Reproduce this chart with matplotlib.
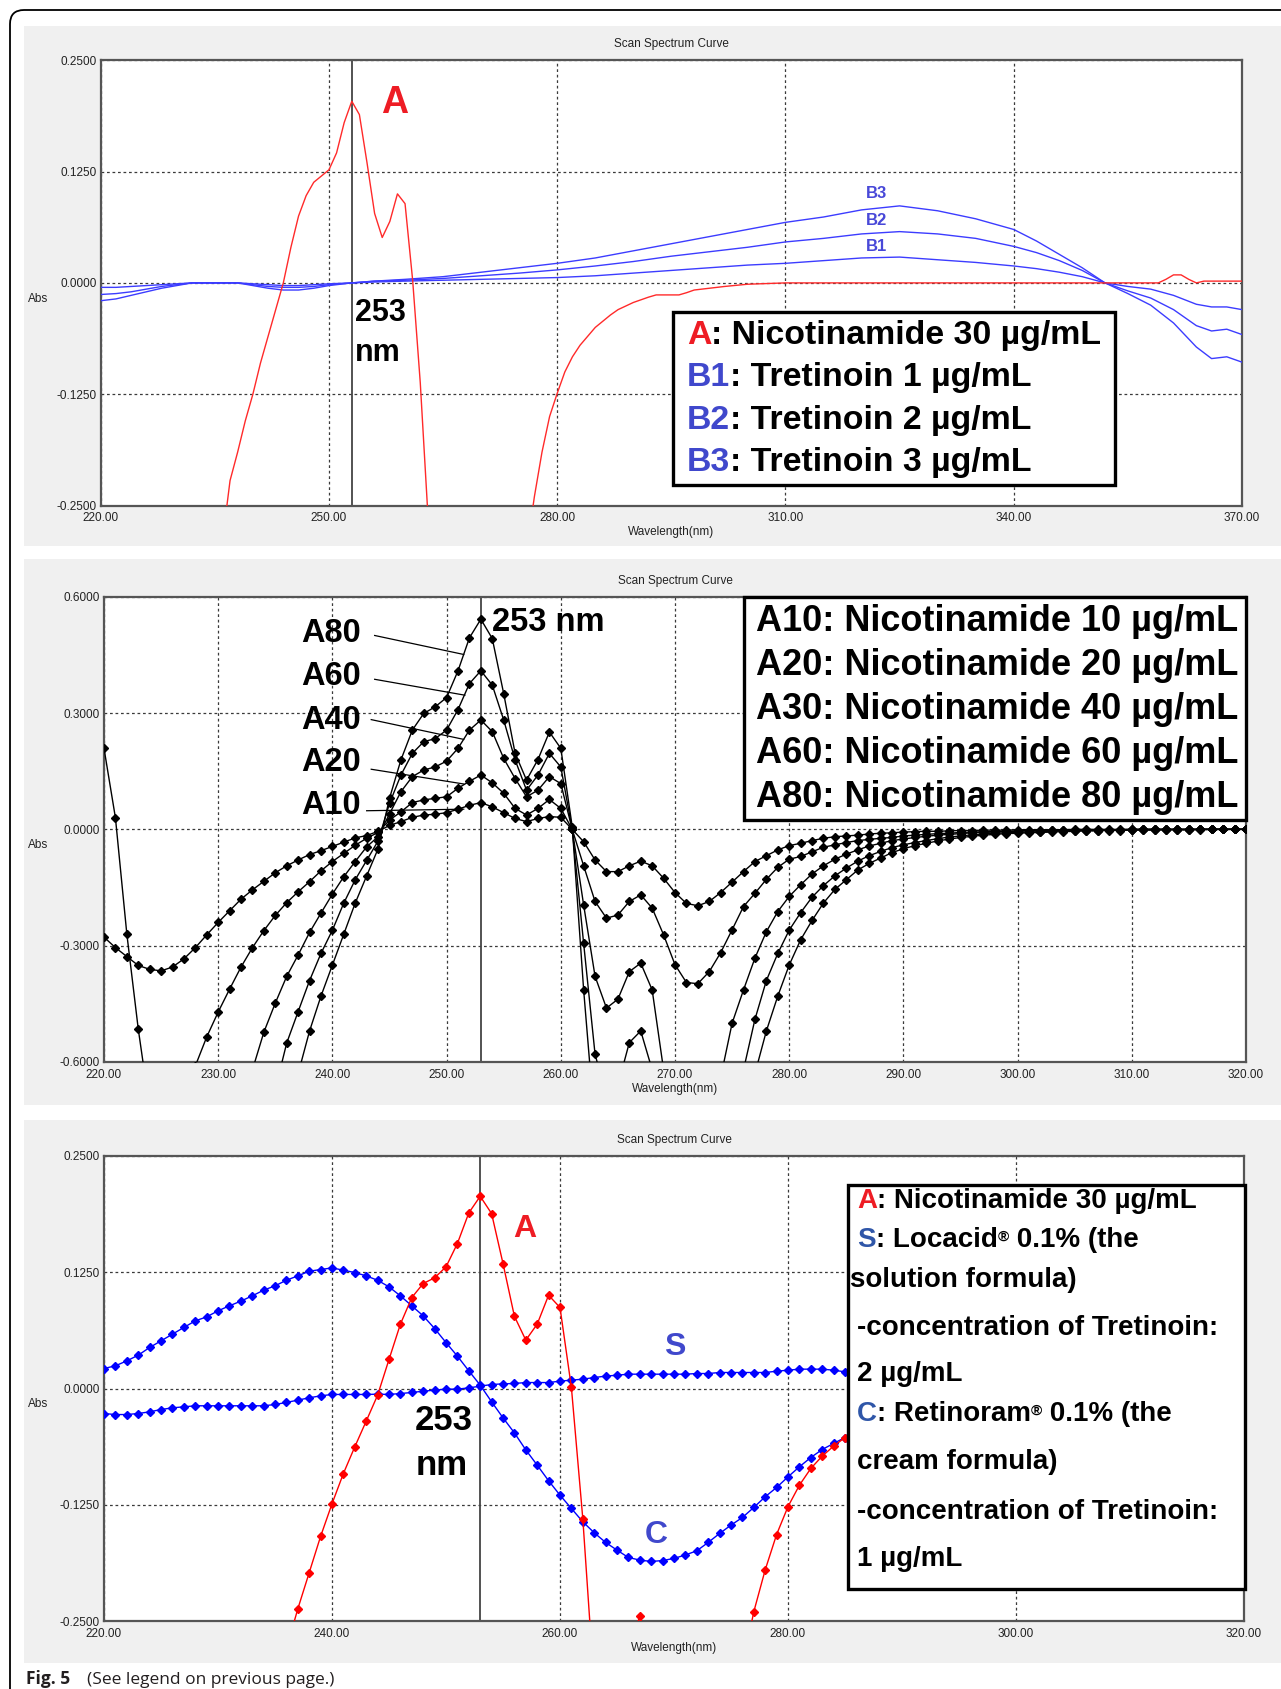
import numpy as np
import matplotlib
matplotlib.use("Agg")
import matplotlib.pyplot as plt
from matplotlib.patches import Rectangle, FancyBboxPatch
from matplotlib.ticker import FormatStrFormatter

plt.rcParams["font.family"] = ["Liberation Sans", "DejaVu Sans"]

# ---------------- data ----------------
# panel 1: Nicotinamide 30 ug/mL (A) and Tretinoin 1/2/3 ug/mL (B1-B3)
a1_wl = [236, 237, 238, 239, 240, 241, 242, 243, 244, 245, 246, 247, 248, 249,
         250, 251, 252, 253, 254, 255, 256, 257, 258, 259, 260, 261, 262, 263,
         264, 266, 268, 270, 272, 274, 276, 277, 278, 279, 280, 281, 282, 283,
         284, 285, 286, 287, 288, 289, 290, 291, 292, 293, 294, 295, 296, 297,
         298, 299, 300, 302, 305, 310, 320, 330, 340, 350, 359, 360, 361, 362,
         363, 364, 365, 367, 370]
a1_abs = [-0.29, -0.222, -0.19, -0.155, -0.125, -0.09, -0.06, -0.03, 0.0, 0.04,
          0.075, 0.098, 0.113, 0.12, 0.127, 0.146, 0.18, 0.204, 0.189, 0.135,
          0.078, 0.051, 0.069, 0.100, 0.089, 0.003, -0.112, -0.26, -0.40,
          -0.35, -0.32, -0.48, -0.52, -0.42, -0.30, -0.24, -0.19, -0.15,
          -0.124, -0.100, -0.083, -0.070, -0.060, -0.050, -0.043, -0.036,
          -0.030, -0.026, -0.022, -0.019, -0.016, -0.0135, -0.0135, -0.0135,
          -0.0135, -0.011, -0.008, -0.007, -0.006, -0.004, -0.0015, 0.0, 0.0,
          0.0, 0.0, 0.0, 0.0, 0.004, 0.009, 0.009, 0.004, 0.0, 0.002, 0.002,
          0.002]

b_wl = [220, 222, 224, 226, 228, 230, 232, 235, 238, 240, 242, 244, 246, 248,
        250, 253, 256, 260, 265, 270, 275, 280, 285, 290, 295, 300, 305, 310,
        315, 320, 325, 330, 335, 340, 343, 346, 349, 352, 355, 358, 361, 364,
        366, 368, 370]
b1_abs = [-0.005, -0.005, -0.004, -0.003, -0.002, -0.001, 0.0, 0.0, 0.0,
          -0.001, -0.002, -0.003, -0.003, -0.002, -0.001, 0.0, 0.001, 0.002,
          0.003, 0.004, 0.005, 0.006, 0.008, 0.011, 0.014, 0.017, 0.020,
          0.022, 0.025, 0.028, 0.029, 0.026, 0.023, 0.019, 0.016, 0.012,
          0.007, 0.0, -0.004, -0.007, -0.014, -0.024, -0.027, -0.027, -0.030]
b2_abs = [-0.013, -0.012, -0.010, -0.007, -0.004, -0.002, 0.0, 0.0, 0.0,
          -0.002, -0.004, -0.005, -0.005, -0.004, -0.002, 0.0, 0.002, 0.003,
          0.005, 0.008, 0.011, 0.0146, 0.019, 0.024, 0.030, 0.035, 0.040,
          0.046, 0.050, 0.055, 0.0576, 0.055, 0.050, 0.041, 0.034, 0.025,
          0.014, 0.0, -0.009, -0.017, -0.030, -0.048, -0.054, -0.052, -0.058]
b3_abs = [-0.020, -0.018, -0.014, -0.010, -0.006, -0.003, 0.0, 0.0, 0.0,
          -0.003, -0.006, -0.008, -0.008, -0.006, -0.003, 0.0, 0.002, 0.004,
          0.007, 0.012, 0.017, 0.022, 0.028, 0.036, 0.044, 0.052, 0.060,
          0.068, 0.074, 0.082, 0.0865, 0.081, 0.072, 0.060, 0.047, 0.032,
          0.017, 0.0, -0.012, -0.025, -0.045, -0.072, -0.085, -0.083, -0.089]

# panel 2: Nicotinamide series, sampled every 1 nm from 220 to 320
wl2 = np.arange(220, 321)
a10 = [-0.278, -0.305, -0.328, -0.351, -0.361, -0.365, -0.355, -0.334, -0.305, -0.272,
       -0.240, -0.210, -0.180, -0.156, -0.134, -0.112, -0.094, -0.079, -0.065, -0.055,
       -0.044, -0.033, -0.022, -0.016, -0.005, 0.010, 0.020, 0.031, 0.037, 0.039,
       0.043, 0.052, 0.062, 0.069, 0.058, 0.043, 0.028, 0.020, 0.028, 0.033,
       0.031, 0.000, -0.032, -0.079, -0.109, -0.109, -0.094, -0.082, -0.094, -0.126,
       -0.163, -0.191, -0.197, -0.186, -0.163, -0.136, -0.109, -0.083, -0.068, -0.053,
       -0.042, -0.036, -0.029, -0.023, -0.019, -0.017, -0.015, -0.012, -0.010, -0.009,
       -0.007, -0.006, -0.005, -0.005, -0.004, -0.003, -0.003, -0.002, -0.002, -0.002,
       -0.001, -0.001, -0.001, -0.001, -0.001, 0.0, 0.0, 0.0, 0.0, 0.0,
       0.0, 0.0, 0.0, 0.0, 0.0, 0.0, 0.0, 0.0, 0.0, 0.0, 0.0]
a20 = [0.209, 0.030, -0.270, -0.515, -0.720, -0.730, -0.710, -0.670, -0.610, -0.535,
       -0.471, -0.412, -0.355, -0.305, -0.261, -0.222, -0.189, -0.161, -0.135, -0.107,
       -0.083, -0.062, -0.041, -0.023, -0.008, 0.024, 0.045, 0.069, 0.076, 0.080,
       0.084, 0.106, 0.124, 0.140, 0.120, 0.093, 0.054, 0.037, 0.054, 0.077,
       0.054, 0.000, -0.094, -0.186, -0.229, -0.221, -0.186, -0.169, -0.203, -0.272,
       -0.349, -0.395, -0.398, -0.367, -0.318, -0.259, -0.199, -0.165, -0.129, -0.098,
       -0.077, -0.070, -0.058, -0.046, -0.040, -0.034, -0.029, -0.026, -0.023, -0.021,
       -0.017, -0.015, -0.013, -0.011, -0.010, -0.008, -0.007, -0.006, -0.005, -0.005,
       -0.004, -0.003, -0.003, -0.002, -0.002, -0.002, -0.001, -0.001, -0.001, -0.001,
       0.0, 0.0, 0.0, 0.0, 0.0, 0.0, 0.0, 0.0, 0.0, 0.0, 0.0]
a40 = [-1.10, -1.20, -1.30, -1.40, -1.44, -1.46, -1.42, -1.34, -1.22, -1.09,
       -0.96, -0.84, -0.72, -0.62, -0.523, -0.448, -0.379, -0.324, -0.266, -0.216,
       -0.167, -0.122, -0.083, -0.045, -0.019, 0.040, 0.097, 0.136, 0.153, 0.161,
       0.176, 0.209, 0.256, 0.282, 0.252, 0.183, 0.131, 0.084, 0.101, 0.136,
       0.118, 0.000, -0.195, -0.379, -0.461, -0.438, -0.367, -0.345, -0.414, -0.620,
       -0.750, -0.820, -0.830, -0.780, -0.640, -0.500, -0.414, -0.332, -0.264, -0.212,
       -0.173, -0.143, -0.115, -0.094, -0.077, -0.064, -0.053, -0.043, -0.036, -0.029,
       -0.025, -0.021, -0.018, -0.015, -0.013, -0.011, -0.009, -0.008, -0.007, -0.006,
       -0.005, -0.004, -0.004, -0.003, -0.003, -0.002, -0.002, -0.002, -0.001, -0.001,
       -0.001, 0.0, 0.0, 0.0, 0.0, 0.0, 0.0, 0.0, 0.0, 0.0, 0.0]
a60 = [-1.70, -1.80, -1.95, -2.10, -2.15, -2.20, -2.10, -2.00, -1.83, -1.63,
       -1.44, -1.26, -1.08, -0.94, -0.80, -0.67, -0.551, -0.470, -0.390, -0.320,
       -0.260, -0.190, -0.130, -0.080, -0.030, 0.067, 0.140, 0.196, 0.226, 0.234,
       0.256, 0.309, 0.376, 0.409, 0.372, 0.282, 0.179, 0.101, 0.140, 0.196,
       0.161, 0.000, -0.294, -0.580, -0.690, -0.660, -0.550, -0.520, -0.620, -0.850,
       -1.050, -1.200, -1.200, -1.100, -0.950, -0.780, -0.620, -0.490, -0.390, -0.320,
       -0.260, -0.215, -0.175, -0.145, -0.120, -0.100, -0.082, -0.068, -0.057, -0.047,
       -0.040, -0.034, -0.029, -0.024, -0.020, -0.017, -0.014, -0.012, -0.010, -0.009,
       -0.008, -0.007, -0.006, -0.005, -0.004, -0.004, -0.003, -0.003, -0.002, -0.002,
       -0.002, -0.001, -0.001, -0.001, -0.001, -0.001, 0.0, 0.0, 0.0, 0.0, 0.0]
a80 = [-2.20, -2.40, -2.60, -2.80, -2.88, -2.92, -2.84, -2.68, -2.44, -2.18,
       -1.92, -1.68, -1.44, -1.25, -1.07, -0.90, -0.75, -0.630, -0.520, -0.430,
       -0.350, -0.270, -0.190, -0.120, -0.050, 0.080, 0.179, 0.256, 0.299, 0.316,
       0.340, 0.409, 0.494, 0.542, 0.492, 0.350, 0.196, 0.127, 0.180, 0.251,
       0.209, 0.007, -0.414, -0.770, -0.920, -0.880, -0.740, -0.690, -0.830, -1.100,
       -1.400, -1.600, -1.600, -1.480, -1.280, -1.000, -0.800, -0.630, -0.520, -0.430,
       -0.350, -0.285, -0.235, -0.190, -0.155, -0.130, -0.105, -0.088, -0.074, -0.060,
       -0.050, -0.042, -0.036, -0.030, -0.025, -0.021, -0.018, -0.015, -0.013, -0.011,
       -0.010, -0.009, -0.008, -0.007, -0.006, -0.005, -0.004, -0.004, -0.003, -0.003,
       -0.002, -0.002, -0.002, -0.001, -0.001, -0.001, -0.001, 0.0, 0.0, 0.0, 0.0]
series2 = {"A10": a10, "A20": a20, "A40": a40, "A60": a60, "A80": a80}

# panel 3: solution (S), cream (C) and nicotinamide (A), 1 nm steps
wl3 = np.arange(220, 286)
s_abs = [-0.0269, -0.028, -0.028, -0.0269, -0.0251, -0.0226, -0.0208, -0.0197, -0.0186, -0.0186,
         -0.0186, -0.0186, -0.0186, -0.0186, -0.0186, -0.0172, -0.015, -0.0125, -0.010, -0.0079,
         -0.0064, -0.0064, -0.0064, -0.0064, -0.0061, -0.0064, -0.0054, -0.0043, -0.0029, -0.0018,
         -0.0007, -0.0007, 0.0007, 0.0025, 0.0043, 0.0050, 0.0054, 0.0064, 0.0064, 0.0064,
         0.0079, 0.009, 0.010, 0.0118, 0.0133, 0.0143, 0.0154, 0.0154, 0.0154, 0.0154,
         0.0154, 0.0154, 0.0161, 0.0161, 0.0172, 0.0172, 0.0172, 0.0172, 0.0172, 0.0186,
         0.0197, 0.0208, 0.0208, 0.0208, 0.0197, 0.0179]
c_abs = [0.0215, 0.0244, 0.0297, 0.0358, 0.0441, 0.0512, 0.0584, 0.0656, 0.0727, 0.0770,
         0.0835, 0.0889, 0.0939, 0.0996, 0.1057, 0.1104, 0.1164, 0.1211, 0.1261, 0.1279,
         0.1297, 0.1272, 0.1247, 0.1211, 0.1164, 0.1093, 0.0996, 0.0889, 0.0781, 0.0645,
         0.0494, 0.0348, 0.0190, 0.0036, -0.0143, -0.0315, -0.0477, -0.0660, -0.0824, -0.0992,
         -0.1147, -0.129, -0.1433, -0.1551, -0.1655, -0.1738, -0.1817, -0.1845, -0.186, -0.185,
         -0.1827, -0.179, -0.1745, -0.1655, -0.1559, -0.1469, -0.1387, -0.1279, -0.1164, -0.1064,
         -0.095, -0.0842, -0.0742, -0.0656, -0.0591, -0.0527]
a3_wl = np.arange(236, 286)
a3_abs = [-0.28, -0.237, -0.198, -0.159, -0.124, -0.0914, -0.0627, -0.0351, -0.0072, 0.0312,
          0.0692, 0.0978, 0.1129, 0.119, 0.1308, 0.1559, 0.1888, 0.2067, 0.1881, 0.1344,
          0.0777, 0.052, 0.0692, 0.1003, 0.0871, 0.0011, -0.14, -0.32, -0.40, -0.35,
          -0.28, -0.245, -0.29, -0.38, -0.45, -0.48, -0.48, -0.45, -0.40, -0.35,
          -0.30, -0.24, -0.195, -0.157, -0.127, -0.104, -0.086, -0.0727, -0.062, -0.0527]

RED = "#ff2a2a"
BLUE_LINE = "#3c3cff"
LBL_RED = "#ee1c24"
LBL_BLUE = "#4048cc"
LEG_BLUE = "#2f56a8"

# ---------------- figure ----------------
W, H = 1281, 1689
fig = plt.figure(figsize=(W / 100, H / 100), dpi=100)

bg = fig.add_axes([0, 0, 1, 1], zorder=0)
bg.set_xlim(0, W)
bg.set_ylim(H, 0)
bg.axis("off")
bg.add_patch(FancyBboxPatch((10, 10), 1300, 1720,
                            boxstyle="round,pad=0,rounding_size=14",
                            facecolor="white", edgecolor="black", lw=1.3))
for top, bottom in [(26, 546), (559, 1105), (1120, 1663)]:
    bg.add_patch(Rectangle((24, top), 1300, bottom - top,
                           facecolor="#f0f0f0", edgecolor="none"))

ov = fig.add_axes([0, 0, 1, 1], zorder=5)
ov.set_xlim(0, W)
ov.set_ylim(H, 0)
ov.axis("off")


def add_panel(left, top, right, bottom):
    ax = fig.add_axes([left / W, 1 - bottom / H, (right - left) / W, (bottom - top) / H],
                      zorder=2)
    ax.set_facecolor("white")
    xc = (left + right) / 2
    ov.text(xc, top - 16, "Scan Spectrum Curve", fontsize=8.5, ha="center", va="center",
            color="#222222")
    ov.text(xc, bottom + 27, "Wavelength(nm)", fontsize=8.5, ha="center", va="center",
            color="#222222")
    return ax


def style_axes(ax, xlim, xticks, ylim, yticks, zero_px):
    ax.set_xlim(*xlim)
    ax.set_ylim(*ylim)
    ax.set_xticks(xticks)
    ax.set_yticks(yticks)
    ax.xaxis.set_major_formatter(FormatStrFormatter("%.2f"))
    ax.yaxis.set_major_formatter(FormatStrFormatter("%.4f"))
    ax.tick_params(length=0, labelsize=8.5, colors="#222222")
    ax.tick_params(axis="x", pad=5)
    ax.tick_params(axis="y", pad=3)
    ax.grid(True, color="#3a3a3a", linestyle=(0, (2.2, 2.2)), linewidth=0.9)
    ax.set_axisbelow(True)
    for s in ax.spines.values():
        s.set_color("#555555")
        s.set_linewidth(1.6)
    ax.axvline(253, color="#444444", lw=1.3, zorder=1.5)
    ov.text(38, zero_px + 16, "Abs", fontsize=8.5, ha="center", va="center", color="#222222")


def rich_line(x, y, parts, size):
    # first piece is placed directly, the rest are chained to its right
    prev = ov.text(x, y, parts[0][0], color=parts[0][1], fontsize=size, fontweight="bold",
                   ha="left", va="center", zorder=6)
    base = prev
    for piece in parts[1:]:
        s, c = piece[0], piece[1]
        if len(piece) > 2:
            prev = ov.annotate(s, xy=(1, 0.36), xycoords=base, ha="left", va="bottom",
                               color=c, fontsize=size * 0.55, fontweight="bold", zorder=6)
        else:
            prev = ov.annotate(s, xy=(1, 0), xycoords=(prev, base), ha="left",
                               va="bottom", color=c, fontsize=size, fontweight="bold",
                               zorder=6)
            base = prev


def legend_box(x0, y0, x1, y1):
    ov.add_patch(Rectangle((x0, y0), x1 - x0, y1 - y0, facecolor="white",
                           edgecolor="black", lw=2.4, zorder=5))


# ---------------- panel 1 ----------------
ax1 = add_panel(100.7, 60.3, 1242, 505.5)
style_axes(ax1, (220, 370), [220, 250, 280, 310, 340, 370], (-0.25, 0.25),
           [-0.25, -0.125, 0.0, 0.125, 0.25], 283)
for vals in (b1_abs, b2_abs, b3_abs):
    ax1.plot(b_wl, vals, color=BLUE_LINE, lw=1.0, zorder=3)
ax1.plot(a1_wl, a1_abs, color=RED, lw=1.0, zorder=3)
for name, yv in [("B3", 0.1007), ("B2", 0.0696), ("B1", 0.0408)]:
    ax1.text(322.0, yv, name, color="#4848d8", fontsize=12, fontweight="bold",
             ha="center", va="center", zorder=4)
ax1.text(258.6, 0.2018, "A", color=LBL_RED, fontsize=27, fontweight="bold",
         ha="center", va="center", zorder=4)
ax1.text(253.4, -0.0337, "253", fontsize=22, fontweight="bold", ha="left", va="center", zorder=4)
ax1.text(253.4, -0.0786, "nm", fontsize=22, fontweight="bold", ha="left", va="center", zorder=4)

legend_box(673.3, 312.3, 1115, 485)
p1_lines = [
    [("A", LBL_RED), (": Nicotinamide 30 µg/mL", "black")],
    [("B1", LBL_BLUE), (": Tretinoin 1 µg/mL", "black")],
    [("B2", LBL_BLUE), (": Tretinoin 2 µg/mL", "black")],
    [("B3", LBL_BLUE), (": Tretinoin 3 µg/mL", "black")],
]
for parts, yy in zip(p1_lines, [335, 377, 420, 462]):
    rich_line(686.7, yy, parts, 24.4)

# ---------------- panel 2 ----------------
ax2 = add_panel(104, 596.7, 1246, 1062)
style_axes(ax2, (220, 320), list(range(220, 321, 10)), (-0.6, 0.6),
           [-0.6, -0.3, 0.0, 0.3, 0.6], 829.3)
for name, vals in series2.items():
    ax2.plot(wl2, vals, color="black", lw=1.0, marker="D", ms=4.0, zorder=3)

lab2 = [("A80", 0.505, (243.7, 0.500), (251.5, 0.451)),
        ("A60", 0.393, (243.7, 0.387), (251.6, 0.346)),
        ("A40", 0.281, (243.4, 0.283), (251.5, 0.232)),
        ("A20", 0.1715, (243.4, 0.155), (251.5, 0.117)),
        ("A10", 0.0626, (243.0, 0.048), (251.5, 0.052))]
for name, yv, p0, p1 in lab2:
    ax2.text(237.3, yv, name, fontsize=23.5, fontweight="bold", ha="left", va="center",
             zorder=4)
    ax2.plot([p0[0], p1[0]], [p0[1], p1[1]], color="black", lw=0.9, zorder=4)
ax2.text(253.95, 0.5346, "253 nm", fontsize=23.5, fontweight="bold", ha="left",
         va="center", zorder=4)

legend_box(744, 597, 1246, 820)
p2_lines = ["A10: Nicotinamide 10 µg/mL", "A20: Nicotinamide 20 µg/mL",
            "A30: Nicotinamide 40 µg/mL", "A60: Nicotinamide 60 µg/mL",
            "A80: Nicotinamide 80 µg/mL"]
for txt, yy in zip(p2_lines, [621.5, 665.6, 709.7, 753.8, 797.8]):
    rich_line(756, yy, [(txt, "black")], 26)

# ---------------- panel 3 ----------------
ax3 = add_panel(104, 1156, 1244, 1621)
style_axes(ax3, (220, 320), [220, 240, 260, 280, 300, 320], (-0.25, 0.25),
           [-0.25, -0.125, 0.0, 0.125, 0.25], 1388.3)
ax3.plot(wl3, c_abs, color="#0000ff", lw=1.0, marker="D", ms=3.8, zorder=3)
ax3.plot(wl3, s_abs, color="#0000ff", lw=1.0, marker="D", ms=3.8, zorder=3)
ax3.plot(a3_wl, a3_abs, color="#ff0000", lw=1.0, marker="D", ms=3.8, zorder=3)
ax3.text(256.9, 0.172, "A", color=LBL_RED, fontsize=23, fontweight="bold",
         ha="center", va="center", zorder=4)
ax3.text(270.1, 0.0447, "S", color=LBL_BLUE, fontsize=23, fontweight="bold",
         ha="center", va="center", zorder=4)
ax3.text(268.4, -0.158, "C", color=LBL_BLUE, fontsize=23, fontweight="bold",
         ha="center", va="center", zorder=4)
ax3.text(247.3, -0.0341, "253", fontsize=25, fontweight="bold", ha="left", va="center", zorder=4)
ax3.text(247.3, -0.0824, "nm", fontsize=25, fontweight="bold", ha="left", va="center", zorder=4)

legend_box(848, 1185, 1245, 1589)
p3_lines = [
    (857, 1201, [("A", LBL_RED), (": Nicotinamide 30 µg/mL", "black")]),
    (857, 1240, [("S", LEG_BLUE), (": Locacid", "black"), ("®", "black", "sup"),
                 (" 0.1% (the", "black")]),
    (850, 1280, [("solution formula)", "black")]),
    (857, 1328, [("-concentration of Tretinoin:", "black")]),
    (857, 1374, [("2 µg/mL", "black")]),
    (857, 1414, [("C", LEG_BLUE), (": Retinoram", "black"), ("®", "black", "sup"),
                 (" 0.1% (the", "black")]),
    (857, 1462, [("cream formula)", "black")]),
    (857, 1512, [("-concentration of Tretinoin:", "black")]),
    (857, 1559, [("1 µg/mL", "black")]),
]
for xx, yy, parts in p3_lines:
    rich_line(xx, yy, parts, 20)

# ---------------- caption ----------------
ov.text(26, 1684, "Fig. 5", fontsize=12.5, fontweight="bold", family="Open Sans",
        ha="left", va="baseline", color="#231f20")
ov.text(87, 1684, "(See legend on previous page.)", fontsize=12.5, family="Open Sans",
        ha="left", va="baseline", color="#231f20")

fig.savefig("out.png", dpi=100)
